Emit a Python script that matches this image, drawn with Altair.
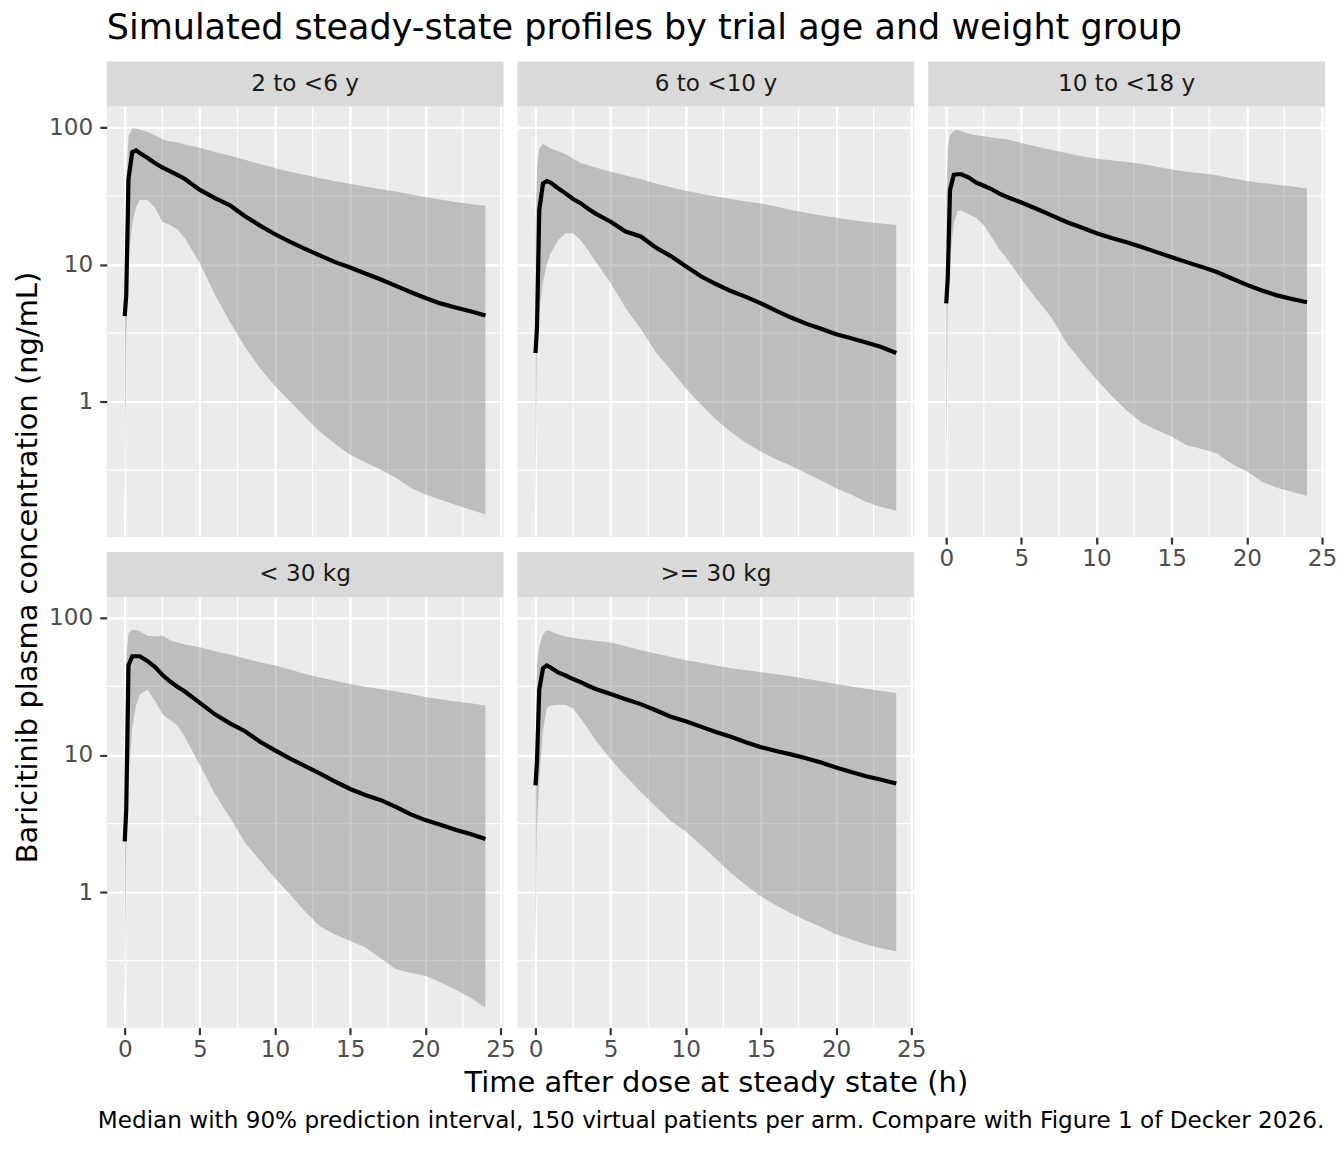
import altair as alt
import pandas as pd

# ---------------- data ----------------
T = [0, 0.1, 0.25, 0.5, 0.75, 1, 1.5, 2, 2.5, 3, 3.5, 4, 5, 6, 7, 8, 9, 10,
     11, 12, 13, 14, 15, 16, 17, 18, 19, 20, 21, 22, 23, 24]

PANELS = ["2 to <6 y", "6 to <10 y", "10 to <18 y", "< 30 kg", ">= 30 kg"]

MED_2_6 = [4.2, 6.0, 42, 66, 68, 65, 60, 55, 51, 48, 45, 42, 35, 30.5, 27, 22.5, 19.2, 16.6,
           14.6, 13, 11.6, 10.4, 9.5, 8.6, 7.8, 7.0, 6.3, 5.7, 5.2, 4.85, 4.55, 4.25]
HI_2_6 = [5, 40, 86, 98, 98, 96, 93, 88, 82, 79, 78, 75, 71, 66, 62, 58, 54, 50.5,
          47.5, 45, 42.5, 40.5, 38.8, 37, 35.5, 34, 32.5, 31, 29.8, 28.6, 27.6, 26.8]
LO_2_6 = [0.147, 3, 10.5, 20, 26, 29.5, 29.5, 26, 20.5, 19.5, 18, 15.5, 10.2, 6.0, 3.8, 2.5, 1.75, 1.3,
          1.0, 0.77, 0.6, 0.49, 0.41, 0.36, 0.32, 0.28, 0.235, 0.21, 0.193, 0.177, 0.163, 0.15]

MED_6_10 = [2.26, 3.5, 25, 39, 40.5, 39.5, 36, 33, 30, 28, 25.5, 23.5, 20.5, 17.4, 16, 13.3, 11.5, 9.7,
            8.2, 7.2, 6.4, 5.8, 5.2, 4.6, 4.1, 3.7, 3.4, 3.1, 2.9, 2.7, 2.5, 2.26]
HI_6_10 = [19, 50, 70, 76, 73, 70, 67, 64, 59, 55, 53, 51, 47.5, 44.5, 42, 39, 36.5, 34.5,
           32.8, 31.3, 30, 28.8, 27.8, 26.5, 25, 23.8, 22.8, 21.9, 21.1, 20.4, 19.9, 19.4]
LO_6_10 = [0.16, 2.5, 4.5, 7.5, 10, 12, 15, 16.9, 16.9, 15, 12.7, 10.5, 7.3, 4.8, 3.4, 2.3, 1.7, 1.25,
           0.95, 0.74, 0.6, 0.5, 0.43, 0.38, 0.34, 0.30, 0.265, 0.233, 0.21, 0.185, 0.17, 0.16]

MED_10_18 = [5.2, 8, 35, 45, 45.5, 45.5, 43, 39.5, 37.5, 35.5, 33, 31.2, 28.3, 25.5, 22.8, 20.4, 18.6, 16.9,
             15.6, 14.5, 13.4, 12.3, 11.3, 10.4, 9.6, 8.8, 7.9, 7.1, 6.45, 5.95, 5.6, 5.3]
HI_10_18 = [30, 70, 88, 94, 96, 94, 90, 87.5, 86, 84.5, 83, 82, 77, 72.5, 68.5, 65, 61.5, 59,
            57.5, 55.8, 54, 51.5, 49.2, 47.5, 46.2, 44.7, 42.5, 40.6, 39.3, 38.2, 37, 35.8]
LO_10_18 = [0.205, 5, 11, 20, 24.5, 24.8, 23.2, 21.8, 19.3, 16, 13, 11.2, 7.8, 5.6, 4.1, 2.67, 1.95, 1.45,
            1.1, 0.86, 0.7, 0.62, 0.555, 0.48, 0.45, 0.42, 0.35, 0.31, 0.26, 0.235, 0.22, 0.205]

MED_LT30 = [2.34, 4, 45, 52.5, 52.5, 52.5, 48.5, 44, 38.5, 34.5, 31.5, 29, 24, 19.8, 17, 14.9, 12.5, 10.8,
            9.4, 8.3, 7.3, 6.4, 5.65, 5.1, 4.7, 4.2, 3.7, 3.35, 3.1, 2.85, 2.65, 2.44]
HI_LT30 = [8, 50, 77, 82, 81.5, 80, 74, 73, 74, 69, 66, 64, 61, 57, 54, 50.5, 47.5, 45,
           42, 39, 36.8, 34.8, 33, 31.5, 30.3, 29.2, 27.8, 26.5, 25.5, 24.6, 23.8, 23]
LO_LT30 = [0.143, 2, 7, 16, 23, 27.5, 30, 25, 20, 18, 16.5, 13.5, 8.4, 5.2, 3.5, 2.3, 1.7, 1.26,
           0.96, 0.72, 0.56, 0.49, 0.44, 0.395, 0.33, 0.275, 0.258, 0.244, 0.22, 0.195, 0.17, 0.143]

MED_GE30 = [6.0, 9, 30, 43, 45, 43.5, 40, 38, 35.8, 34, 32, 30.3, 27.8, 25.5, 23.5, 21.2, 19, 17.6,
            16.1, 14.7, 13.6, 12.4, 11.4, 10.7, 10.1, 9.45, 8.8, 8.1, 7.5, 7.0, 6.6, 6.2]
HI_GE30 = [10, 45, 62, 76, 81, 80, 76, 73, 71.5, 70, 69, 68, 66, 62, 58, 55, 52, 49,
           47, 45, 43, 41.5, 40.2, 38.8, 37.5, 36, 34.5, 33, 31.6, 30.4, 29.3, 28.3]
LO_GE30 = [0.36, 3, 6.5, 15, 22, 23, 23.2, 23.2, 21.8, 18.5, 15.5, 12.8, 9.3, 7.0, 5.4, 4.2, 3.3, 2.76,
           2.2, 1.75, 1.38, 1.12, 0.93, 0.8, 0.7, 0.62, 0.555, 0.49, 0.45, 0.415, 0.39, 0.37]

MEDS = [MED_2_6, MED_6_10, MED_10_18, MED_LT30, MED_GE30]
HIS = [HI_2_6, HI_6_10, HI_10_18, HI_LT30, HI_GE30]
LOS = [LO_2_6, LO_6_10, LO_10_18, LO_LT30, LO_GE30]

X_TICKS = [0, 5, 10, 15, 20, 25]
X_MINOR = [2.5, 7.5, 12.5, 17.5, 22.5]
Y_TICKS = [1, 10, 100]
Y_MINOR = [0.316, 3.16, 31.6]

TITLE = "Simulated steady-state profiles by trial age and weight group"
X_TITLE = "Time after dose at steady state (h)"
Y_TITLE = "Baricitinib plasma concentration (ng/mL)"
CAPTION = ("Median with 90% prediction interval, 150 virtual patients per arm. "
           "Compare with Figure 1 of Decker 2026.")

# ---------------- styling ----------------
FONT = "DejaVu Sans"
W, H = 398, 432
STRIP_H = 45
XDOM = [-1.2, 25.2]
YDOM = [0.1026, 142.2]


def make_panel(i, show_y, show_x):
    name = PANELS[i]
    df = pd.DataFrame({"t": T, "med": MEDS[i], "lo": LOS[i], "hi": HIS[i]})
    xs = alt.Scale(domain=XDOM, nice=False, zero=False)
    ys = alt.Scale(type="log", domain=YDOM, nice=False)

    xaxis_kw = dict(values=X_TICKS, grid=True, gridColor="white", gridWidth=2.2,
                    domain=False, labels=show_x, ticks=show_x, labelFlush=False,
                    labelOverlap=False, labelFontSize=23.2, labelColor="#4D4D4D",
                    labelFont=FONT, labelPadding=3.5, tickColor="#333333",
                    tickWidth=2.2, tickSize=7, title=None)
    if i == 4:
        xaxis_kw.update(title=X_TITLE, titleX=W / 2, titleY=64, titleBaseline="alphabetic",
                        titleFontSize=29, titleFontWeight="normal", titleColor="black",
                        titleFont=FONT)
    yaxis_kw = dict(values=Y_TICKS, grid=True, gridColor="white", gridWidth=2.2,
                    domain=False, labels=show_y, ticks=show_y, labelFlush=False,
                    labelOverlap=False, labelFontSize=23.2, labelColor="#4D4D4D",
                    labelFont=FONT, labelPadding=7, tickColor="#333333",
                    tickWidth=2.2, tickSize=7, format="d", title=None)
    if i == 0:
        yaxis_kw.update(title=Y_TITLE, titleX=-70, titleY=462, titleBaseline="alphabetic",
                        titleFontSize=29, titleFontWeight="normal", titleColor="black",
                        titleFont=FONT, titleAngle=270)
    xaxis = alt.Axis(**xaxis_kw)
    yaxis = alt.Axis(**yaxis_kw)

    vminor = alt.Chart(pd.DataFrame({"v": X_MINOR})).mark_rule(
        color="white", strokeWidth=1.2).encode(x=alt.X("v:Q", scale=xs, axis=xaxis))
    hminor = alt.Chart(pd.DataFrame({"v": Y_MINOR})).mark_rule(
        color="white", strokeWidth=1.2).encode(y=alt.Y("v:Q", scale=ys, axis=yaxis))

    base = alt.Chart(df)
    band = base.mark_area(color="#7F7F7F", opacity=0.42).encode(
        x=alt.X("t:Q", scale=xs, axis=xaxis),
        y=alt.Y("lo:Q", scale=ys, axis=yaxis),
        y2="hi:Q",
    )
    line = base.mark_line(color="black", strokeWidth=4.2).encode(
        x=alt.X("t:Q", scale=xs, axis=xaxis),
        y=alt.Y("med:Q", scale=ys, axis=yaxis),
    )
    sdf = pd.DataFrame({"label": [name]})
    strip = alt.Chart(sdf).mark_rect(color="#D9D9D9").encode(
        x=alt.value(0), x2=alt.value(W), y=alt.value(-STRIP_H), y2=alt.value(0))
    stext = alt.Chart(sdf).mark_text(font=FONT, fontSize=23.2, color="#1A1A1A",
                                     align="center", baseline="middle").encode(
        text="label:N", x=alt.value(W / 2), y=alt.value(-STRIP_H / 2))

    layers = [vminor, hminor, band, line, strip, stext]
    if i == 4:
        cap = alt.Chart(pd.DataFrame({"c": [CAPTION]})).mark_text(
            font=FONT, fontSize=23.2, color="black", align="right",
            baseline="alphabetic").encode(
            text="c:N", x=alt.value(809.3), y=alt.value(533))
        layers.append(cap)
    return alt.layer(*layers).properties(width=W, height=H)


panels = [
    make_panel(0, True, False),
    make_panel(1, False, False),
    make_panel(2, False, True),
    make_panel(3, True, True),
    make_panel(4, False, True),
]

chart = alt.concat(*panels, columns=3).properties(
    spacing=alt.RowColnumber(row=60, column=14),
    bounds="flush",
    title=alt.TitleParams(TITLE, anchor="start", frame="group", fontSize=35.1,
                          fontWeight="normal", color="black", font=FONT,
                          baseline="alphabetic", offset=-12),
    padding={"left": 5, "top": 0, "right": -1, "bottom": 0},
    background="white",
).configure_view(fill="#EBEBEB", stroke=None)

chart.save("out.html", embed_options={"renderer": "svg", "actions": False})
